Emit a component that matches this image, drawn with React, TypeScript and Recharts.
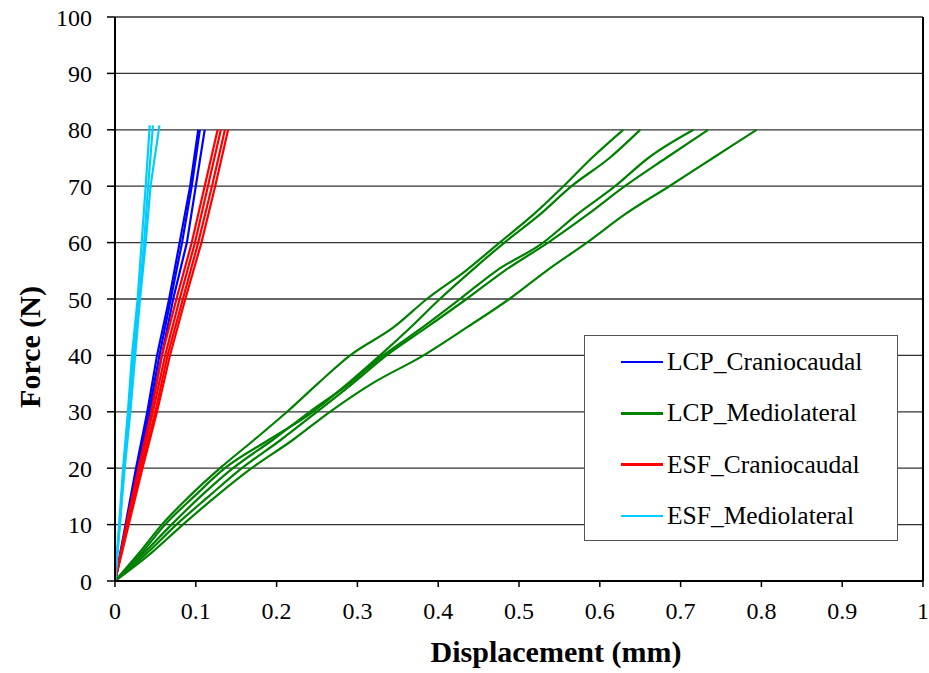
import React from 'react';
import { LineChart, Line, XAxis, YAxis, CartesianGrid, ReferenceLine, Label } from 'recharts';

// Force levels (N)
const force5 = [0, 5, 10, 15, 20, 25, 30, 35, 40, 45, 50, 55, 60, 65, 70, 75, 80];
const force10 = [0, 10, 20, 30, 40, 50, 60, 70, 80];
const forceEsfMl = [0, 10, 20, 30, 40, 50, 60, 70, 80.8];

// LCP_Craniocaudal displacement (mm) at force10
const lcpCC1 = [0, 0.013, 0.026, 0.040, 0.052, 0.067, 0.080, 0.093, 0.103];
const lcpCC2 = [0, 0.014, 0.028, 0.042, 0.055, 0.069, 0.083, 0.095, 0.105];
const lcpCC3 = [0, 0.015, 0.029, 0.044, 0.058, 0.072, 0.089, 0.100, 0.111];

// LCP_Mediolateral displacement (mm) at force5
const lcpML1 = [0, 0.030, 0.058, 0.092, 0.130, 0.172, 0.213, 0.251, 0.291, 0.345, 0.386, 0.434, 0.476, 0.518, 0.555, 0.590, 0.629];
const lcpML2 = [0, 0.033, 0.062, 0.098, 0.136, 0.190, 0.245, 0.288, 0.328, 0.366, 0.402, 0.441, 0.482, 0.526, 0.565, 0.612, 0.650];
const lcpML3 = [0, 0.036, 0.070, 0.106, 0.146, 0.195, 0.241, 0.290, 0.332, 0.381, 0.427, 0.472, 0.530, 0.572, 0.619, 0.660, 0.716];
const lcpML4 = [0, 0.040, 0.076, 0.116, 0.157, 0.205, 0.250, 0.294, 0.336, 0.386, 0.435, 0.482, 0.536, 0.585, 0.631, 0.682, 0.734];
const lcpML5 = [0, 0.045, 0.084, 0.125, 0.169, 0.220, 0.266, 0.318, 0.382, 0.436, 0.488, 0.534, 0.584, 0.631, 0.686, 0.740, 0.794];

// ESF_Craniocaudal displacement (mm) at force10
const esfCC1 = [0, 0.014, 0.029, 0.045, 0.058, 0.076, 0.095, 0.111, 0.127];
const esfCC2 = [0, 0.015, 0.030, 0.047, 0.062, 0.080, 0.099, 0.115, 0.131];
const esfCC3 = [0, 0.016, 0.032, 0.050, 0.065, 0.084, 0.103, 0.120, 0.136];
const esfCC4 = [0, 0.017, 0.034, 0.052, 0.068, 0.087, 0.107, 0.124, 0.140];

// ESF_Mediolateral displacement (mm) at forceEsfMl
const esfML1 = [0, 0.005, 0.010, 0.016, 0.021, 0.028, 0.033, 0.038, 0.043];
const esfML2 = [0, 0.006, 0.011, 0.017, 0.023, 0.030, 0.036, 0.041, 0.047];
const esfML3 = [0, 0.006, 0.012, 0.019, 0.025, 0.031, 0.038, 0.044, 0.055];

const xTicks = [0, 0.1, 0.2, 0.3, 0.4, 0.5, 0.6, 0.7, 0.8, 0.9, 1];
const yTicks = [0, 10, 20, 30, 40, 50, 60, 70, 80, 90, 100];

const seriesNames = ['LCP_Craniocaudal', 'LCP_Mediolateral', 'ESF_Craniocaudal', 'ESF_Mediolateral'];
const seriesColors = ['#0000FF', '#008000', '#FF0000', '#00CCFF'];

const toPoints = (disp: number[], force: number[]) => disp.map((d, i) => ({ d, f: force[i] }));

const groups = [
  { name: seriesNames[0], color: seriesColors[0], curve: 'linear', lines: [lcpCC1, lcpCC2, lcpCC3].map((a) => toPoints(a, force10)) },
  { name: seriesNames[1], color: seriesColors[1], curve: 'monotone', lines: [lcpML1, lcpML2, lcpML3, lcpML4, lcpML5].map((a) => toPoints(a, force5)) },
  { name: seriesNames[2], color: seriesColors[2], curve: 'linear', lines: [esfCC1, esfCC2, esfCC3, esfCC4].map((a) => toPoints(a, force10)) },
  { name: seriesNames[3], color: seriesColors[3], curve: 'linear', lines: [esfML1, esfML2, esfML3].map((a) => toPoints(a, forceEsfMl)) },
];

const FONT = '"Liberation Serif", "Times New Roman", serif';

export default function App() {
  return (
    <div style={{ position: 'absolute', left: 0, top: 0, width: 929, height: 673, background: '#fff', fontFamily: FONT }}>
      <LineChart width={929} height={673} margin={{ top: 17, right: 6, left: 0, bottom: 0 }} style={{ fontFamily: FONT }}>
        <CartesianGrid vertical={false} stroke="#333" strokeWidth={1.3} />
        <XAxis
          type="number"
          dataKey="d"
          domain={[0, 1]}
          ticks={xTicks}
          tickFormatter={(v: number) => String(Number(v.toFixed(1)))}
          height={92}
          tickSize={6}
          tickMargin={15}
          axisLine={{ stroke: '#000', strokeWidth: 2 }}
          tickLine={{ stroke: '#000', strokeWidth: 1.5 }}
          tick={{ fill: '#000', fontSize: 24, fontFamily: FONT }}
          allowDataOverflow
        >
          <Label
            content={(props: any) => {
              const vb = props.viewBox || { x: 115, y: 581, width: 808 };
              return (
                <text
                  x={vb.x + vb.width / 2 + 37}
                  y={vb.y + 81}
                  textAnchor="middle"
                  style={{ fontFamily: FONT, fontWeight: 'bold', fontSize: 30 }}
                  fill="#000"
                >
                  Displacement (mm)
                </text>
              );
            }}
          />
        </XAxis>
        <YAxis
          type="number"
          dataKey="f"
          domain={[0, 100]}
          ticks={yTicks}
          width={115}
          tickSize={8}
          tickMargin={15}
          axisLine={{ stroke: '#000', strokeWidth: 2 }}
          tickLine={{ stroke: '#000', strokeWidth: 1.5 }}
          tick={{ fill: '#000', fontSize: 24, fontFamily: FONT }}
          allowDataOverflow
        >
          <Label
            content={(props: any) => {
              const vb = props.viewBox || { x: 0, y: 17, height: 564 };
              const cx = 40;
              const cy = vb.y + vb.height / 2 + 48;
              return (
                <text
                  x={cx}
                  y={cy}
                  transform={`rotate(-90 ${cx} ${cy})`}
                  textAnchor="middle"
                  style={{ fontFamily: FONT, fontWeight: 'bold', fontSize: 30 }}
                  fill="#000"
                >
                  Force (N)
                </text>
              );
            }}
          />
        </YAxis>
        <ReferenceLine x={1} stroke="#000" strokeWidth={2} />
        {groups.map((g, gi) =>
          g.lines.map((pts, li) => (
            <Line
              key={`${gi}-${li}`}
              data={pts}
              dataKey="f"
              type={g.curve as any}
              stroke={g.color}
              strokeWidth={2.2}
              dot={false}
              activeDot={false}
              isAnimationActive={false}
              legendType="none"
            />
          ))
        )}
      </LineChart>
      <div
        style={{
          position: 'absolute',
          left: 584,
          top: 335,
          width: 314,
          height: 206,
          boxSizing: 'border-box',
          border: '1.5px solid #555',
          background: '#fff',
        }}
      >
        {groups.map((g, i) => (
          <div
            key={g.name}
            style={{
              position: 'absolute',
              left: 36,
              top: 26 + i * 51.3 - 15,
              height: 30,
              display: 'flex',
              alignItems: 'center',
              whiteSpace: 'nowrap',
            }}
          >
            <div style={{ width: 42, height: 2.5, background: g.color, marginRight: 4 }} />
            <span style={{ fontSize: 25.5, color: '#000', lineHeight: '30px', fontFamily: FONT }}>{g.name}</span>
          </div>
        ))}
      </div>
    </div>
  );
}
